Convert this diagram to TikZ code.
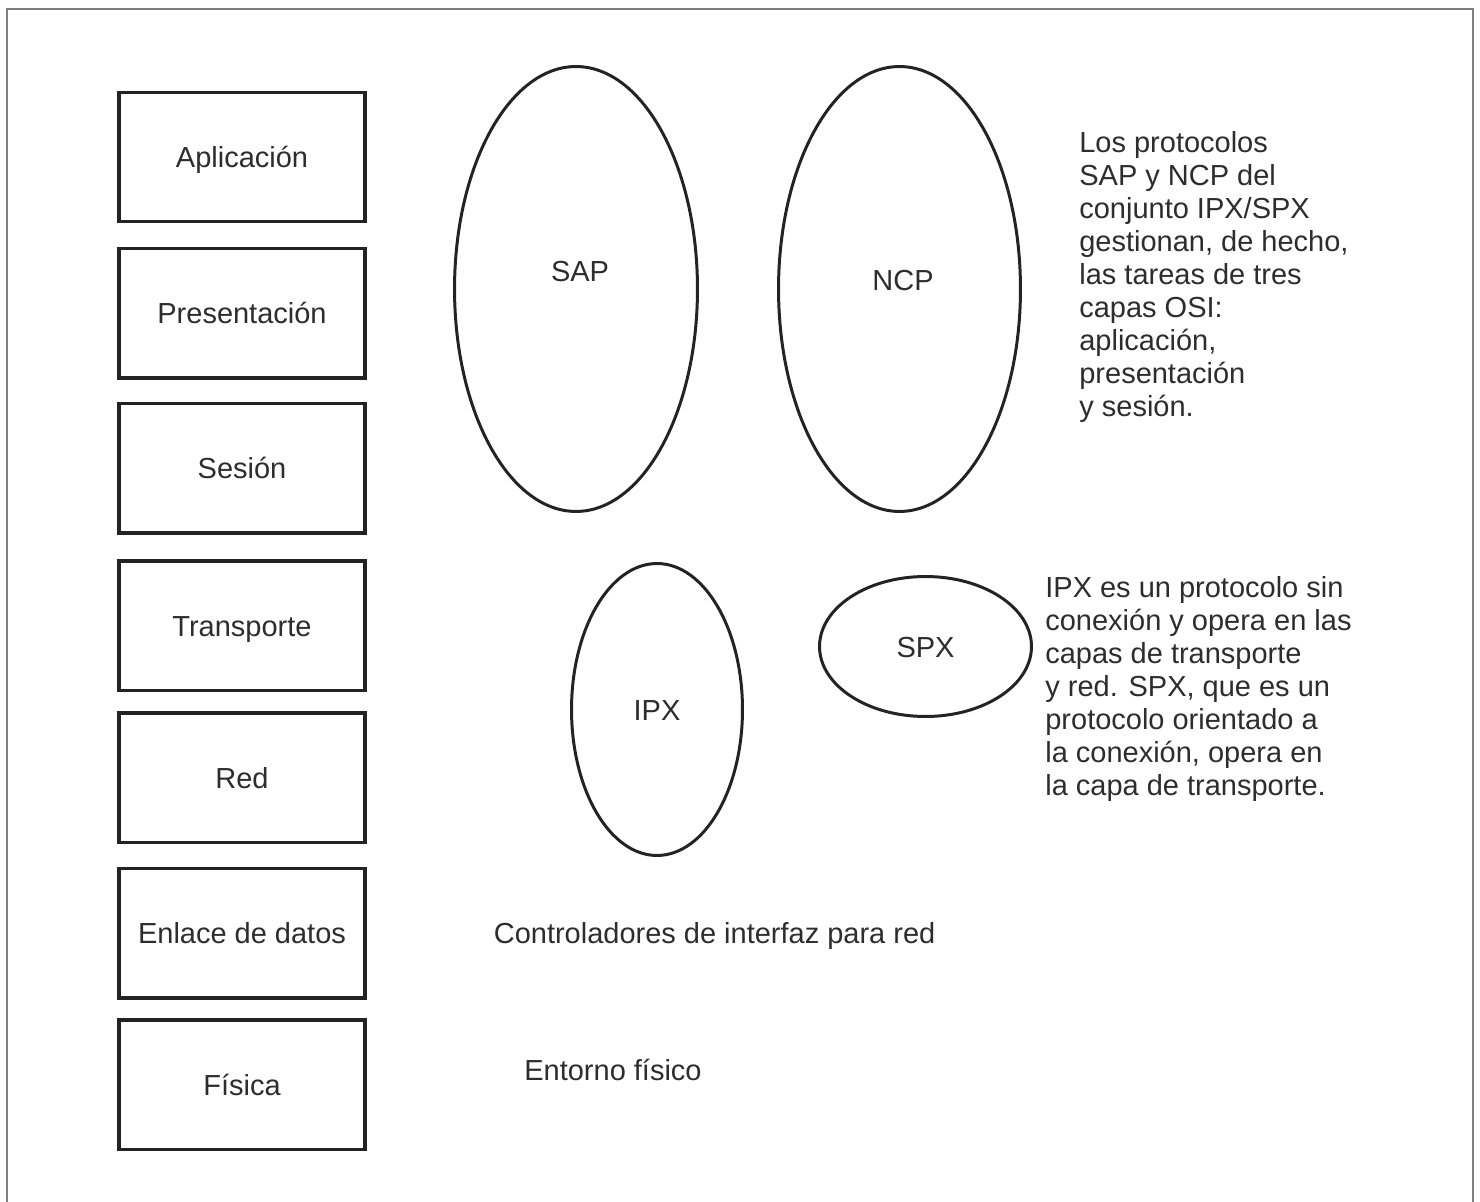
\documentclass[tikz,border=0pt]{standalone}
\usepackage{fontspec}
\setmainfont{Liberation Sans}
\usepackage{xcolor}
\usetikzlibrary{positioning, shapes.geometric}
\definecolor{osiInk}{RGB}{35,35,35}
\definecolor{osiText}{RGB}{45,45,45}
\definecolor{osiFrame}{RGB}{125,125,125}

\begin{document}
\begin{tikzpicture}[
    x=0.02cm, y=-0.02cm,
    every node/.style={font=\fontsize{16.5}{18.8}\selectfont, text=osiText},
    layer/.style={draw=osiInk, line width=2pt, inner sep=0pt, outer sep=0pt, minimum width=4.92cm, minimum height=2.59cm, text height=0.42cm, text depth=0pt},
    proto/.style={ellipse, draw=osiInk, line width=1.7pt, inner sep=0pt, text height=0.42cm, text depth=0pt},
    tag/.style={inner sep=0pt, text height=0.42cm, text depth=0pt},
    note/.style={inner sep=0pt, align=left, anchor=north west},
    node distance=0.5cm
]
    \useasboundingbox (0,0) rectangle (1480,1202);
    \draw[osiFrame, line width=1.1pt] (7,1202) -- (7,9) -- (1473,9) -- (1473,1202);

    % capas OSI
    \node[layer] (app) at (242,157) {Aplicación};
    \node[layer, below=0.54cm of app] (pres) {Presentación};
    \node[layer, below=0.51cm of pres] (ses) {Sesión};
    \node[layer, below=0.56cm of ses] (trans) {Transporte};
    \node[layer, below=0.45cm of trans] (red) {Red};
    \node[layer, below=0.52cm of red] (enlace) {Enlace de datos};
    \node[layer, below=0.44cm of enlace] (fisica) {Física};

    % protocolos
    \node[proto, minimum width=4.86cm, minimum height=8.9cm] (sap) at (576,289) {};
    \node[tag] (saptag) at (580,271.5) {SAP};
    \node[proto, minimum width=4.84cm, minimum height=8.9cm] (ncp) at (899.5,289) {};
    \node[tag] (ncptag) at (903,280) {NCP};
    \node[proto, minimum width=3.42cm, minimum height=5.84cm] (ipx) at (657,709.5) {IPX};
    \node[proto, minimum width=4.24cm, minimum height=2.8cm] (spx) at (925.5,646.5) {SPX};

    \node[tag, anchor=west] (nic) at (493.5,932.5) {Controladores de interfaz para red};
    \node[tag, anchor=west] (medio) at (524,1070) {Entorno físico};

    % notas
    \node[note] (notasap) at (1079,131) {Los protocolos\\SAP y NCP del\\conjunto IPX/SPX\\gestionan, de hecho,\\las tareas de tres\\capas OSI:\\aplicación,\\presentación\\y sesión.};
    \node[note] (notaipx) at (1045,576) {IPX es un protocolo sin\\conexión y opera en las\\capas de transporte\\y red. SPX, que es un\\protocolo orientado a\\la conexión, opera en\\la capa de transporte.};
\end{tikzpicture}
\end{document}
